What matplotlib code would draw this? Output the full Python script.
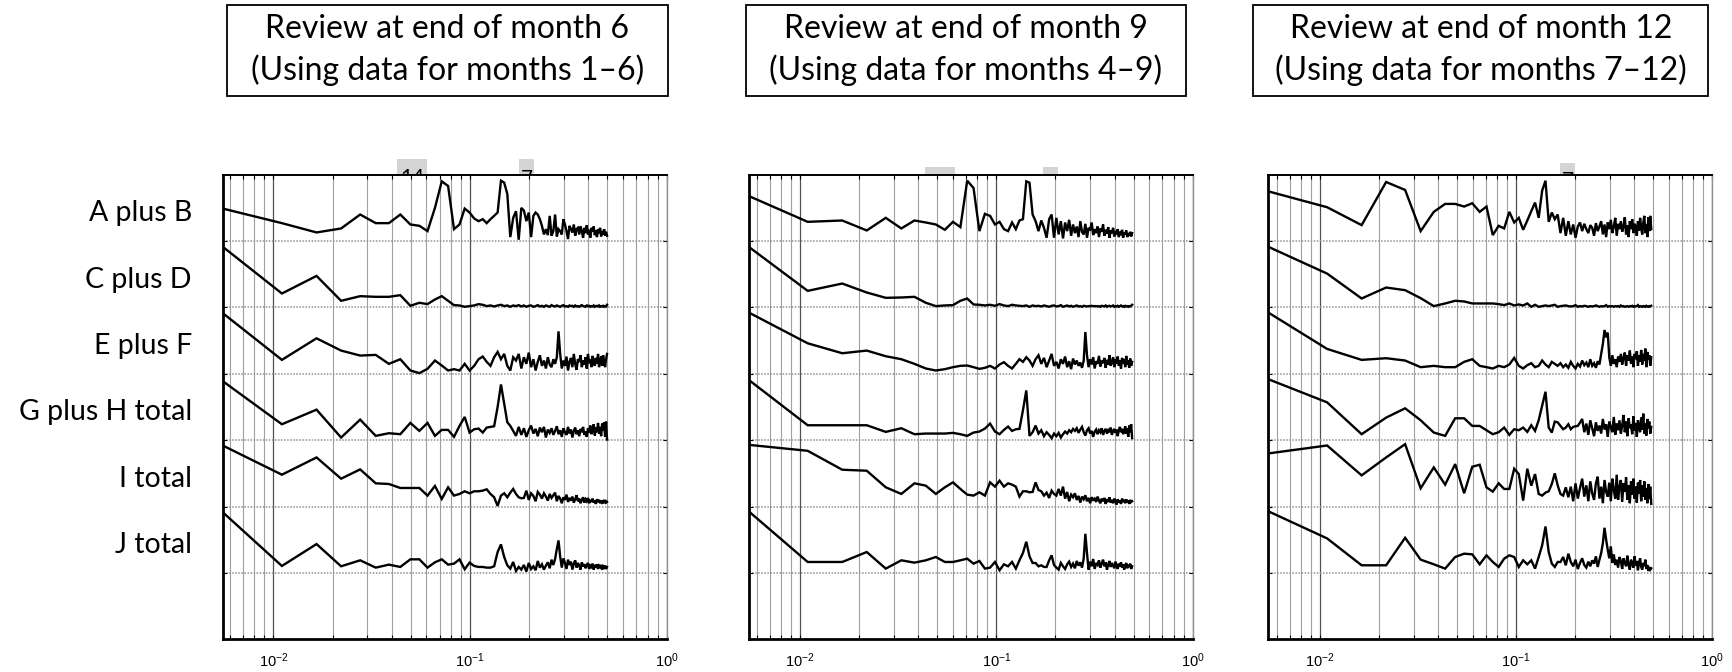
import numpy as np
import matplotlib.pyplot as plt
from matplotlib.patches import Rectangle
from matplotlib.ticker import FixedLocator, LogLocator, NullFormatter
from matplotlib.transforms import blended_transform_factory

plt.rcParams['font.family'] = ['Lato', 'DejaVu Sans']

# ---- data -----------------------------------------------------------------
series_names = ['A plus B', 'C plus D', 'E plus F', 'G plus H total', 'I total', 'J total']
panel_titles = ['Review at end of month 6\n(Using data for months 1\u20136)',
                'Review at end of month 9\n(Using data for months 4\u20139)',
                'Review at end of month 12\n(Using data for months 7\u201312)']
days_in_window = [181, 183, 184]      # length of each 6-month window
harmonics = np.arange(1, 91)          # periodogram ordinates k = 1 .. N/2

# normalised periodograms, one row each
ab_m6 = [0.49, 0.27, 0.13, 0.19, 0.40, 0.27, 0.27, 0.40, 0.25, 0.23,
         0.15, 0.50, 0.90, 0.83, 0.18, 0.25, 0.49, 0.43, 0.34, 0.30,
         0.33, 0.27, 0.33, 0.38, 0.43, 0.91, 0.88, 0.71, 0.06, 0.35,
         0.45, 0.02, 0.50, 0.46, 0.30, 0.43, 0.06, 0.38, 0.43, 0.40,
         0.33, 0.23, 0.10, 0.18, 0.09, 0.38, 0.08, 0.15, 0.40, 0.07,
         0.18, 0.15, 0.10, 0.33, 0.25, 0.15, 0.03, 0.23, 0.18, 0.13,
         0.25, 0.08, 0.18, 0.20, 0.10, 0.22, 0.15, 0.05, 0.20, 0.12,
         0.24, 0.10, 0.17, 0.05, 0.20, 0.14, 0.22, 0.09, 0.16, 0.06,
         0.18, 0.12, 0.20, 0.07, 0.15, 0.10, 0.18, 0.08, 0.14, 0.08]
cd_m6 = [0.915, 0.21, 0.475, 0.10, 0.17, 0.16, 0.16, 0.185, 0.025, 0.07,
         0.05, 0.12, 0.17, 0.10, 0.035, 0.03, 0.01, 0.02, 0.03, 0.05,
         0.04, 0.02, 0.03, 0.015, 0.03, 0.04, 0.02, 0.03, 0.01, 0.03,
         0.02, 0.035, 0.015, 0.03, 0.01, 0.025, 0.03, 0.01, 0.02, 0.035,
         0.015, 0.025, 0.01, 0.03, 0.02, 0.01, 0.035, 0.02, 0.015, 0.03,
         0.02, 0.01, 0.025, 0.035, 0.015, 0.02, 0.01, 0.03, 0.02, 0.025,
         0.01, 0.03, 0.015, 0.02, 0.01, 0.025, 0.035, 0.02, 0.015, 0.01,
         0.03, 0.02, 0.025, 0.01, 0.02, 0.015, 0.03, 0.01, 0.02, 0.025,
         0.015, 0.03, 0.01, 0.02, 0.015, 0.025, 0.01, 0.02, 0.015, 0.04]
ef_m6 = [0.915, 0.21, 0.535, 0.35, 0.275, 0.285, 0.15, 0.22, 0.05, 0.01,
         0.075, 0.20, 0.125, 0.05, 0.07, 0.05, 0.15, 0.05, 0.12, 0.22,
         0.26, 0.18, 0.12, 0.25, 0.33, 0.22, 0.30, 0.12, 0.05, 0.25,
         0.20, 0.30, 0.08, 0.25, 0.15, 0.32, 0.10, 0.22, 0.05, 0.18,
         0.28, 0.12, 0.20, 0.08, 0.25, 0.14, 0.10, 0.22, 0.15, 0.25,
         0.64, 0.30, 0.08, 0.20, 0.12, 0.26, 0.05, 0.18, 0.24, 0.10,
         0.30, 0.15, 0.06, 0.22, 0.18, 0.28, 0.10, 0.20, 0.14, 0.25,
         0.08, 0.30, 0.16, 0.22, 0.10, 0.27, 0.18, 0.12, 0.24, 0.15,
         0.30, 0.10, 0.20, 0.26, 0.12, 0.28, 0.18, 0.10, 0.22, 0.30]
gh_m6 = [0.89, 0.24, 0.46, 0.04, 0.31, 0.065, 0.105, 0.09, 0.26, 0.14,
         0.26, 0.065, 0.155, 0.155, 0.05, 0.215, 0.35, 0.115, 0.165, 0.175,
         0.115, 0.19, 0.20, 0.21, 0.50, 0.84, 0.55, 0.27, 0.215, 0.14,
         0.065, 0.20, 0.08, 0.18, 0.05, 0.15, 0.22, 0.10, 0.17, 0.06,
         0.19, 0.12, 0.20, 0.04, 0.16, 0.11, 0.18, 0.08, 0.14, 0.21,
         0.09, 0.15, 0.05, 0.18, 0.12, 0.08, 0.20, 0.10, 0.16, 0.04,
         0.14, 0.19, 0.09, 0.15, 0.06, 0.17, 0.12, 0.20, 0.08, 0.13,
         0.05, 0.18, 0.11, 0.22, 0.09, 0.15, 0.24, 0.07, 0.19, 0.12,
         0.26, 0.10, 0.20, 0.06, 0.25, 0.14, 0.27, 0.05, 0.28, 0.01]
i_m6 = [0.92, 0.48, 0.74, 0.42, 0.56, 0.35, 0.34, 0.28, 0.28, 0.28,
        0.165, 0.31, 0.115, 0.29, 0.165, 0.19, 0.23, 0.20, 0.23, 0.23,
        0.24, 0.26, 0.19, 0.14, 0.01, 0.165, 0.20, 0.14, 0.21, 0.265,
        0.19, 0.14, 0.125, 0.13, 0.24, 0.10, 0.20, 0.16, 0.08, 0.22,
        0.18, 0.12, 0.20, 0.15, 0.09, 0.19, 0.13, 0.17, 0.21, 0.08,
        0.16, 0.12, 0.05, 0.14, 0.10, 0.18, 0.07, 0.13, 0.09, 0.15,
        0.06, 0.11, 0.17, 0.08, 0.12, 0.05, 0.10, 0.14, 0.06, 0.11,
        0.08, 0.13, 0.05, 0.10, 0.07, 0.12, 0.06, 0.09, 0.04, 0.11,
        0.07, 0.10, 0.05, 0.09, 0.06, 0.08, 0.05, 0.10, 0.06, 0.07]
j_m6 = [0.915, 0.105, 0.435, 0.10, 0.19, 0.08, 0.125, 0.09, 0.205, 0.205,
        0.08, 0.16, 0.205, 0.125, 0.14, 0.205, 0.055, 0.155, 0.105, 0.09,
        0.09, 0.08, 0.08, 0.10, 0.315, 0.43, 0.24, 0.115, 0.065, 0.165,
        0.03, 0.09, 0.05, 0.12, 0.02, 0.15, 0.06, 0.10, 0.04, 0.18,
        0.08, 0.13, 0.05, 0.11, 0.16, 0.07, 0.20, 0.12, 0.21, 0.36,
        0.49, 0.25, 0.08, 0.22, 0.15, 0.06, 0.20, 0.12, 0.17, 0.05,
        0.14, 0.19, 0.08, 0.15, 0.11, 0.05, 0.16, 0.10, 0.13, 0.07,
        0.12, 0.15, 0.06, 0.11, 0.09, 0.14, 0.05, 0.12, 0.08, 0.13,
        0.06, 0.11, 0.09, 0.12, 0.05, 0.10, 0.08, 0.11, 0.06, 0.09]

ab_m9 = [0.68, 0.29, 0.31, 0.16, 0.35, 0.19, 0.31, 0.28, 0.25, 0.17,
         0.29, 0.21, 0.91, 0.80, 0.15, 0.41, 0.38, 0.25, 0.29, 0.18,
         0.15, 0.28, 0.18, 0.31, 0.33, 0.90, 0.88, 0.40, 0.30, 0.15,
         0.31, 0.20, 0.05, 0.33, 0.40, 0.05, 0.35, 0.10, 0.30, 0.04,
         0.28, 0.15, 0.32, 0.08, 0.25, 0.12, 0.22, 0.06, 0.30, 0.14,
         0.10, 0.26, 0.05, 0.20, 0.16, 0.28, 0.09, 0.18, 0.12, 0.22,
         0.06, 0.19, 0.14, 0.25, 0.08, 0.17, 0.11, 0.21, 0.05, 0.16,
         0.12, 0.20, 0.07, 0.15, 0.10, 0.18, 0.06, 0.14, 0.09, 0.17,
         0.05, 0.13, 0.10, 0.16, 0.06, 0.12, 0.08, 0.14, 0.07, 0.12]
cd_m9 = [0.915, 0.25, 0.36, 0.225, 0.145, 0.15, 0.16, 0.07, 0.02, 0.03,
         0.035, 0.10, 0.135, 0.045, 0.04, 0.03, 0.04, 0.025, 0.05, 0.03,
         0.02, 0.04, 0.03, 0.025, 0.02, 0.03, 0.01, 0.03, 0.02, 0.025,
         0.015, 0.03, 0.02, 0.01, 0.025, 0.03, 0.015, 0.02, 0.035, 0.01,
         0.02, 0.03, 0.015, 0.025, 0.01, 0.02, 0.03, 0.015, 0.02, 0.01,
         0.025, 0.02, 0.015, 0.02, 0.02, 0.025, 0.02, 0.02, 0.02, 0.015,
         0.02, 0.01, 0.025, 0.02, 0.015, 0.03, 0.01, 0.02, 0.025, 0.015,
         0.02, 0.03, 0.01, 0.02, 0.015, 0.025, 0.01, 0.02, 0.03, 0.015,
         0.02, 0.01, 0.025, 0.015, 0.02, 0.01, 0.02, 0.015, 0.025, 0.04]
ef_m9 = [0.925, 0.46, 0.31, 0.35, 0.265, 0.22, 0.15, 0.08, 0.05, 0.07,
         0.10, 0.12, 0.125, 0.10, 0.075, 0.09, 0.12, 0.08, 0.14, 0.175,
         0.12, 0.08, 0.15, 0.22, 0.18, 0.25, 0.20, 0.12, 0.22, 0.28,
         0.15, 0.24, 0.10, 0.20, 0.30, 0.12, 0.18, 0.08, 0.22, 0.15,
         0.26, 0.10, 0.19, 0.07, 0.23, 0.14, 0.20, 0.12, 0.17, 0.09,
         0.20, 0.63, 0.28, 0.10, 0.22, 0.14, 0.25, 0.08, 0.19, 0.15,
         0.27, 0.11, 0.20, 0.16, 0.24, 0.09, 0.21, 0.14, 0.28, 0.12,
         0.18, 0.25, 0.10, 0.22, 0.15, 0.26, 0.12, 0.20, 0.08, 0.24,
         0.16, 0.22, 0.10, 0.27, 0.14, 0.20, 0.09, 0.23, 0.12, 0.18]
gh_m9 = [0.91, 0.225, 0.225, 0.225, 0.125, 0.18, 0.09, 0.10, 0.10, 0.10,
         0.11, 0.09, 0.065, 0.115, 0.13, 0.175, 0.25, 0.13, 0.09, 0.155,
         0.205, 0.14, 0.165, 0.17, 0.45, 0.75, 0.065, 0.12, 0.22, 0.10,
         0.15, 0.06, 0.12, 0.08, 0.03, 0.10, 0.06, 0.11, 0.04, 0.09,
         0.13, 0.10, 0.15, 0.12, 0.17, 0.14, 0.18, 0.11, 0.16, 0.20,
         0.12, 0.07, 0.15, 0.18, 0.10, 0.14, 0.05, 0.13, 0.16, 0.09,
         0.15, 0.12, 0.18, 0.08, 0.14, 0.17, 0.10, 0.15, 0.12, 0.19,
         0.08, 0.14, 0.17, 0.11, 0.16, 0.06, 0.15, 0.20, 0.12, 0.17,
         0.09, 0.14, 0.21, 0.10, 0.18, 0.05, 0.22, 0.12, 0.24, 0.03]
i_m9 = [0.93, 0.84, 0.555, 0.54, 0.29, 0.19, 0.35, 0.315, 0.19, 0.29,
        0.365, 0.265, 0.18, 0.165, 0.215, 0.165, 0.365, 0.30, 0.39, 0.30,
        0.35, 0.33, 0.30, 0.15, 0.23, 0.23, 0.215, 0.22, 0.365, 0.25,
        0.23, 0.165, 0.21, 0.13, 0.24, 0.19, 0.165, 0.265, 0.165, 0.30,
        0.12, 0.22, 0.08, 0.18, 0.14, 0.20, 0.10, 0.16, 0.06, 0.15,
        0.11, 0.17, 0.08, 0.13, 0.05, 0.14, 0.10, 0.12, 0.07, 0.15,
        0.09, 0.05, 0.12, 0.08, 0.13, 0.04, 0.11, 0.07, 0.14, 0.06,
        0.10, 0.05, 0.12, 0.08, 0.03, 0.11, 0.06, 0.09, 0.04, 0.12,
        0.07, 0.10, 0.05, 0.11, 0.06, 0.09, 0.04, 0.10, 0.07, 0.08]
j_m9 = [0.93, 0.165, 0.165, 0.315, 0.065, 0.19, 0.155, 0.19, 0.24, 0.165,
        0.165, 0.19, 0.215, 0.14, 0.18, 0.065, 0.08, 0.165, 0.04, 0.13,
        0.10, 0.165, 0.065, 0.19, 0.30, 0.47, 0.25, 0.15, 0.15, 0.10,
        0.115, 0.09, 0.09, 0.19, 0.265, 0.12, 0.08, 0.05, 0.15, 0.10,
        0.06, 0.13, 0.17, 0.09, 0.14, 0.07, 0.18, 0.11, 0.16, 0.08,
        0.22, 0.59, 0.30, 0.05, 0.17, 0.10, 0.21, 0.06, 0.15, 0.12,
        0.19, 0.08, 0.14, 0.20, 0.10, 0.16, 0.05, 0.13, 0.18, 0.09,
        0.15, 0.11, 0.07, 0.17, 0.12, 0.06, 0.14, 0.10, 0.16, 0.08,
        0.13, 0.05, 0.11, 0.15, 0.07, 0.12, 0.09, 0.14, 0.06, 0.10]

ab_m12 = [0.75, 0.51, 0.24, 0.89, 0.77, 0.15, 0.44, 0.56, 0.56, 0.52,
          0.57, 0.44, 0.52, 0.09, 0.23, 0.19, 0.44, 0.28, 0.35, 0.17,
          0.31, 0.45, 0.58, 0.35, 0.76, 0.91, 0.29, 0.43, 0.33, 0.40,
          0.12, 0.35, 0.08, 0.30, 0.10, 0.25, 0.05, 0.22, 0.28, 0.15,
          0.26, 0.18, 0.12, 0.24, 0.20, 0.08, 0.27, 0.15, 0.22, 0.30,
          0.10, 0.25, 0.06, 0.28, 0.18, 0.32, 0.12, 0.22, 0.35, 0.08,
          0.26, 0.18, 0.30, 0.14, 0.22, 0.36, 0.10, 0.24, 0.06, 0.30,
          0.18, 0.33, 0.12, 0.26, 0.22, 0.08, 0.30, 0.16, 0.35, 0.20,
          0.10, 0.28, 0.38, 0.12, 0.25, 0.06, 0.36, 0.15, 0.38, 0.18]
cd_m12 = [0.915, 0.51, 0.135, 0.30, 0.26, 0.14, 0.02, 0.06, 0.10, 0.09,
          0.06, 0.06, 0.06, 0.06, 0.05, 0.035, 0.06, 0.03, 0.045, 0.03,
          0.06, 0.01, 0.04, 0.01, 0.02, 0.03, 0.02, 0.03, 0.04, 0.01,
          0.02, 0.025, 0.03, 0.02, 0.015, 0.02, 0.035, 0.01, 0.02, 0.015,
          0.025, 0.02, 0.01, 0.02, 0.015, 0.02, 0.03, 0.02, 0.01, 0.02,
          0.015, 0.02, 0.035, 0.01, 0.02, 0.015, 0.02, 0.01, 0.02, 0.015,
          0.02, 0.01, 0.03, 0.015, 0.02, 0.01, 0.015, 0.02, 0.01, 0.02,
          0.015, 0.025, 0.01, 0.02, 0.015, 0.02, 0.035, 0.01, 0.02, 0.015,
          0.01, 0.02, 0.015, 0.01, 0.025, 0.015, 0.01, 0.02, 0.015, 0.025]
ef_m12 = [0.925, 0.375, 0.21, 0.235, 0.20, 0.10, 0.12, 0.10, 0.10, 0.18,
          0.22, 0.12, 0.10, 0.08, 0.12, 0.10, 0.14, 0.24, 0.12, 0.08,
          0.13, 0.16, 0.10, 0.12, 0.20, 0.14, 0.10, 0.18, 0.15, 0.12,
          0.16, 0.10, 0.14, 0.09, 0.18, 0.12, 0.08, 0.15, 0.11, 0.20,
          0.13, 0.17, 0.10, 0.22, 0.12, 0.16, 0.09, 0.19, 0.14, 0.30,
          0.45, 0.66, 0.55, 0.62, 0.25, 0.12, 0.28, 0.15, 0.22, 0.10,
          0.26, 0.18, 0.30, 0.14, 0.24, 0.32, 0.12, 0.28, 0.20, 0.35,
          0.15, 0.26, 0.10, 0.30, 0.22, 0.34, 0.12, 0.28, 0.18, 0.36,
          0.14, 0.30, 0.20, 0.38, 0.10, 0.33, 0.22, 0.28, 0.12, 0.25]
gh_m12 = [0.92, 0.57, 0.09, 0.34, 0.48, 0.30, 0.115, 0.065, 0.33, 0.33,
          0.215, 0.215, 0.15, 0.09, 0.12, 0.19, 0.08, 0.165, 0.15, 0.19,
          0.125, 0.225, 0.14, 0.30, 0.52, 0.73, 0.19, 0.115, 0.28, 0.27,
          0.215, 0.165, 0.19, 0.24, 0.165, 0.20, 0.21, 0.215, 0.265, 0.32,
          0.12, 0.25, 0.08, 0.30, 0.18, 0.06, 0.27, 0.14, 0.22, 0.10,
          0.32, 0.16, 0.24, 0.05, 0.28, 0.20, 0.12, 0.35, 0.08, 0.25,
          0.15, 0.30, 0.10, 0.22, 0.38, 0.12, 0.28, 0.06, 0.33, 0.18,
          0.24, 0.09, 0.36, 0.14, 0.26, 0.05, 0.30, 0.20, 0.12, 0.34,
          0.16, 0.40, 0.10, 0.25, 0.07, 0.32, 0.18, 0.28, 0.10, 0.20]
i_m12 = [0.80, 0.92, 0.47, 0.74, 0.94, 0.275, 0.59, 0.33, 0.64, 0.20,
         0.60, 0.63, 0.29, 0.225, 0.35, 0.265, 0.265, 0.57, 0.49, 0.09,
         0.57, 0.315, 0.49, 0.19, 0.165, 0.21, 0.23, 0.34, 0.50, 0.32,
         0.19, 0.165, 0.29, 0.14, 0.30, 0.08, 0.35, 0.12, 0.28, 0.42,
         0.15, 0.32, 0.08, 0.38, 0.20, 0.10, 0.35, 0.45, 0.12, 0.30,
         0.05, 0.40, 0.22, 0.15, 0.36, 0.08, 0.42, 0.25, 0.12, 0.48,
         0.10, 0.30, 0.40, 0.07, 0.35, 0.22, 0.44, 0.10, 0.32, 0.05,
         0.38, 0.18, 0.42, 0.12, 0.30, 0.06, 0.36, 0.20, 0.40, 0.08,
         0.32, 0.15, 0.38, 0.10, 0.28, 0.05, 0.34, 0.12, 0.30, 0.04]
j_m12 = [0.93, 0.52, 0.115, 0.115, 0.53, 0.20, 0.13, 0.065, 0.24, 0.29,
         0.28, 0.13, 0.265, 0.165, 0.09, 0.215, 0.265, 0.24, 0.09, 0.19,
         0.13, 0.19, 0.065, 0.24, 0.415, 0.70, 0.315, 0.14, 0.09, 0.165,
         0.165, 0.24, 0.115, 0.29, 0.165, 0.10, 0.20, 0.06, 0.15, 0.22,
         0.12, 0.08, 0.17, 0.10, 0.19, 0.14, 0.25, 0.09, 0.20, 0.30,
         0.45, 0.68, 0.50, 0.35, 0.22, 0.40, 0.15, 0.28, 0.12, 0.20,
         0.08, 0.24, 0.18, 0.06, 0.22, 0.15, 0.10, 0.26, 0.12, 0.05,
         0.20, 0.14, 0.08, 0.25, 0.11, 0.18, 0.04, 0.16, 0.22, 0.09,
         0.05, 0.15, 0.10, 0.20, 0.06, 0.12, 0.03, 0.09, 0.05, 0.07]

panel_series = [
    [ab_m6, cd_m6, ef_m6, gh_m6, i_m6, j_m6],
    [ab_m9, cd_m9, ef_m9, gh_m9, i_m9, j_m9],
    [ab_m12, cd_m12, ef_m12, gh_m12, i_m12, j_m12],
]

# ---- layout (pixel geometry of the 1733 x 672 target) ----------------------
W, H = 1733, 672
fig = plt.figure(figsize=(W / 100, H / 100), dpi=100)

ax_left_px = [222.7, 748.6, 1268.1]
ax_w_px = 444.0
ax_top_px, ax_bot_px = 174.7, 639.3

# grey period tags that sit just above the plot frame (mostly hidden)
tags = [
    [(397, 159, 30, '14', 183.5), (519, 159, 15, '7', 185.0)],
    [(925, 166.7, 30, '', 0), (1042.7, 166.7, 15.6, '', 0)],
    [(1560, 162.7, 15, '7', 187.0)],
]

title_boxes = [(226.6, 668.0), (746.0, 1186.0), (1253.0, 1708.5)]

axes = []
for p in range(3):
    ax = fig.add_axes([ax_left_px[p] / W, 1 - ax_bot_px / H,
                       ax_w_px / W, (ax_bot_px - ax_top_px) / H])
    axes.append(ax)
    n = days_in_window[p]
    freq = harmonics / n
    for r, vals in enumerate(panel_series[p]):
        assert len(vals) == len(harmonics)
        base = len(series_names) - r
        ax.plot(freq, base + np.asarray(vals), color='black', lw=1.7,
                solid_joinstyle='miter', zorder=3)

    ax.set_xscale('log')
    ax.set_xlim(1 / n, 1)
    ax.set_ylim(0, 7)
    ax.xaxis.set_major_locator(FixedLocator([1e-2, 1e-1, 1]))
    ax.xaxis.set_minor_locator(LogLocator(base=10, subs=np.arange(2, 10)))
    ax.xaxis.set_minor_formatter(NullFormatter())
    ax.set_yticks(range(1, 7))
    ax.set_yticklabels([])

    ax.grid(which='minor', axis='x', color='#a0a0a0', lw=0.8)
    ax.grid(which='major', axis='x', color='#505050', lw=0.9)
    ax.grid(which='major', axis='y', color='#909090', lw=1.1, ls=(0, (1, 1)))

    ax.tick_params(which='both', direction='in', top=True, right=True,
                   length=3, width=0.8, color='black')
    ax.tick_params(axis='x', which='major', pad=9, labelsize=10.5,
                   labelfontfamily='Liberation Sans')
    for side in ['left', 'bottom']:
        ax.spines[side].set_linewidth(2.0)
    ax.spines['top'].set_linewidth(1.4)
    ax.spines['right'].set_color('#909090')
    ax.spines['right'].set_linewidth(1.0)

    # title box
    x0, x1 = title_boxes[p]
    fig.add_artist(Rectangle((x0 / W, 1 - 95.5 / H), (x1 - x0) / W, 91 / H,
                             transform=fig.transFigure, fill=False,
                             ec='black', lw=1.3))
    fig.text((x0 + x1) / 2 / W, 1 - 50 / H, panel_titles[p], ha='center',
             va='center', fontsize=23, linespacing=1.38)

    # period tags, drawn underneath the axes so the frame hides their lower part
    for tx, ty, tw, tlabel, tbase in tags[p]:
        fig.add_artist(Rectangle((tx / W, 1 - ax_top_px / H), tw / W,
                                 (ax_top_px - ty) / H, transform=fig.transFigure,
                                 fc='#d4d4d4', ec='none', zorder=-2))
        if tlabel:
            fig.text((tx + tw / 2) / W, 1 - tbase / H, tlabel, ha='center',
                     va='baseline', fontsize=15, zorder=-1)

# row labels on the left of the first panel
trans = blended_transform_factory(fig.transFigure, axes[0].transData)
for r, name in enumerate(series_names):
    base = len(series_names) - r
    axes[0].text(192 / W, base + 0.42, name, transform=trans, ha='right',
                 va='center', fontsize=20.5, clip_on=False)

fig.savefig('out.png', dpi=100)
